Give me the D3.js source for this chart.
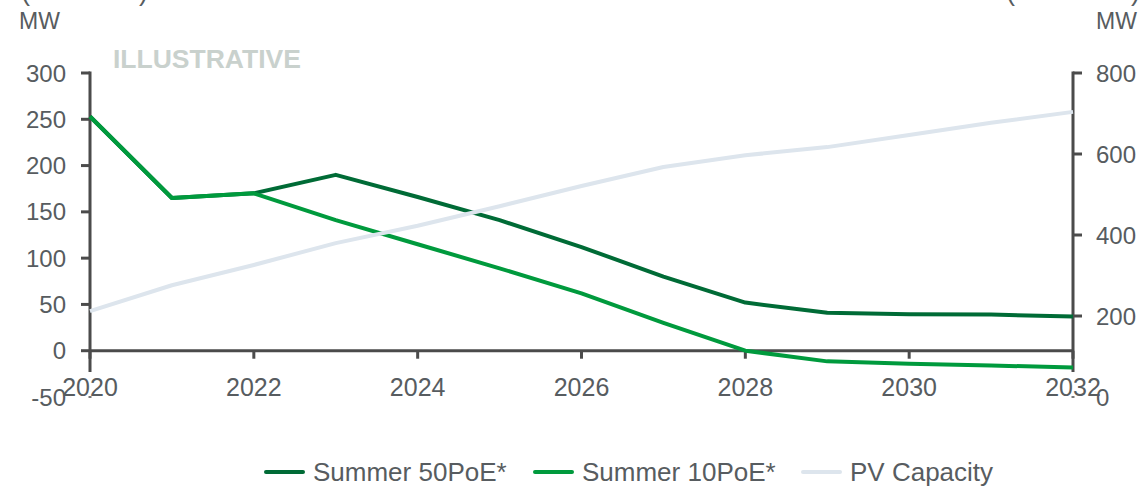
<!DOCTYPE html>
<html>
<head>
<meta charset="utf-8">
<script src="https://cdn.jsdelivr.net/npm/d3@7"></script>
<style>
  html, body { margin: 0; padding: 0; background: #ffffff; }
  svg { display: block; font-family: "Liberation Sans", Arial, sans-serif; }
</style>
</head>
<body>
<svg id="chart" width="1145" height="486"></svg>
<script>
// Yearly outlook, 2020–2032
const years = [2020, 2021, 2022, 2023, 2024, 2025, 2026, 2027, 2028, 2029, 2030, 2031, 2032];
// Summer demand scenarios (MW, left axis)
const summer50PoE = [253, 165, 170, 190, 166, 141, 112, 80, 52, 41, 39.5, 39, 37];
const summer10PoE = [253, 165, 170, 141, 115, 89, 62, 30, 0, -11.5, -14, -16, -18];
// Installed PV capacity (MW, right axis)
const pvCapacity = [212, 276, 326, 380, 423, 471, 521, 568, 597, 617, 647, 677, 704];

const xTicks = [2020, 2022, 2024, 2026, 2028, 2030, 2032];
const leftTicks = [300, 250, 200, 150, 100, 50, 0, -50];
const rightTicks = [800, 600, 400, 200, 0];

const seriesNames = ["Summer 50PoE*", "Summer 10PoE*", "PV Capacity"];
const seriesColors = ["#006b36", "#009a3d", "#dde5ed"];

const axisColor = "#4b4b4b";
const textColor = "#575c60";
const fontSize = 24;

const svg = d3.select("#chart");

const x = d3.scaleLinear().domain([2020, 2032]).range([90, 1073]);
const yL = d3.scaleLinear().domain([-50, 300]).range([397, 73]);
const yR = d3.scaleLinear().domain([0, 800]).range([397, 73]);

// Axis headings along the top edge
svg.append("text").attr("x", 21).attr("y", 0)
  .attr("font-size", 27).attr("fill", textColor)
  .attr("textLength", 127).attr("lengthAdjust", "spacing")
  .text("(Demand)");
svg.append("text").attr("x", 1006).attr("y", 0)
  .attr("font-size", 27).attr("fill", textColor)
  .attr("textLength", 134).attr("lengthAdjust", "spacing")
  .text("(Installed)");
svg.append("text").attr("x", 19).attr("y", 29)
  .attr("font-size", 23).attr("fill", textColor).text("MW");
svg.append("text").attr("x", 1096).attr("y", 29)
  .attr("font-size", 23).attr("fill", textColor).text("MW");

// Watermark
svg.append("text").attr("x", 113).attr("y", 68)
  .attr("font-size", 26.5).attr("font-weight", "bold").attr("fill", "#c9d1cd")
  .text("ILLUSTRATIVE");

// Left axis
const gL = svg.append("g");
gL.append("line").attr("x1", x(2020)).attr("x2", x(2020))
  .attr("y1", yL(300) - 1.5).attr("y2", yL(-23))
  .attr("stroke", axisColor).attr("stroke-width", 3);
gL.selectAll("line.tick").data(leftTicks).join("line")
  .attr("class", "tick")
  .attr("x1", d => d === -50 ? x(2020) - 1.5 : x(2020) - 9)
  .attr("x2", d => d === -50 ? x(2020) + 1.5 : x(2020))
  .attr("y1", d => yL(d)).attr("y2", d => yL(d))
  .attr("stroke", axisColor).attr("stroke-width", d => d === -50 ? 1.5 : 3);
gL.selectAll("text").data(leftTicks).join("text")
  .attr("x", 66).attr("y", d => yL(d)).attr("dy", "0.36em")
  .attr("text-anchor", "end").attr("font-size", fontSize).attr("fill", textColor)
  .text(d => d);

// Right axis
const gR = svg.append("g");
gR.append("line").attr("x1", x(2032)).attr("x2", x(2032))
  .attr("y1", yR(800) - 1.5).attr("y2", yR(62))
  .attr("stroke", axisColor).attr("stroke-width", 3);
gR.selectAll("line.tick").data(rightTicks).join("line")
  .attr("class", "tick")
  .attr("x1", d => d === 0 ? x(2032) - 1.5 : x(2032))
  .attr("x2", d => d === 0 ? x(2032) + 1.5 : x(2032) + 9)
  .attr("y1", d => yR(d)).attr("y2", d => yR(d))
  .attr("stroke", axisColor).attr("stroke-width", d => d === 0 ? 1.5 : 3);
gR.selectAll("text").data(rightTicks).join("text")
  .attr("x", 1096).attr("y", d => yR(d)).attr("dy", "0.36em")
  .attr("font-size", fontSize).attr("fill", textColor)
  .text(d => d);

// X axis along zero
const gX = svg.append("g");
gX.append("line").attr("x1", x(2020)).attr("x2", x(2032))
  .attr("y1", yL(0)).attr("y2", yL(0))
  .attr("stroke", axisColor).attr("stroke-width", 3);
gX.selectAll("line.tick").data(xTicks).join("line")
  .attr("class", "tick")
  .attr("x1", d => x(d)).attr("x2", d => x(d))
  .attr("y1", yL(0)).attr("y2", yL(0) + 8)
  .attr("stroke", axisColor).attr("stroke-width", 3);
gX.selectAll("text").data(xTicks).join("text")
  .attr("x", d => x(d)).attr("y", 396)
  .attr("text-anchor", "middle").attr("font-size", 25).attr("fill", textColor)
  .text(d => d);

// Lines
const lineL = d3.line().x((d, i) => x(years[i])).y(d => yL(d));
const lineR = d3.line().x((d, i) => x(years[i])).y(d => yR(d));

svg.append("path").datum(summer50PoE).attr("d", lineL)
  .attr("fill", "none").attr("stroke", seriesColors[0]).attr("stroke-width", 4)
  .attr("stroke-linejoin", "round");
svg.append("path").datum(summer10PoE).attr("d", lineL)
  .attr("fill", "none").attr("stroke", seriesColors[1]).attr("stroke-width", 4)
  .attr("stroke-linejoin", "round");
svg.append("path").datum(pvCapacity).attr("d", lineR)
  .attr("fill", "none").attr("stroke", seriesColors[2]).attr("stroke-width", 4)
  .attr("stroke-linejoin", "round");

// Legend
const legendX = [266, 535, 803];
const leg = svg.append("g");
seriesNames.forEach((name, i) => {
  leg.append("line").attr("x1", legendX[i]).attr("x2", legendX[i] + 37)
    .attr("y1", 472).attr("y2", 472)
    .attr("stroke", seriesColors[i]).attr("stroke-width", 4).attr("stroke-linecap", "round");
  leg.append("text").attr("x", legendX[i] + 47).attr("y", 472).attr("dy", "0.36em")
    .attr("font-size", 26).attr("fill", textColor).text(name);
});
</script>
</body>
</html>
